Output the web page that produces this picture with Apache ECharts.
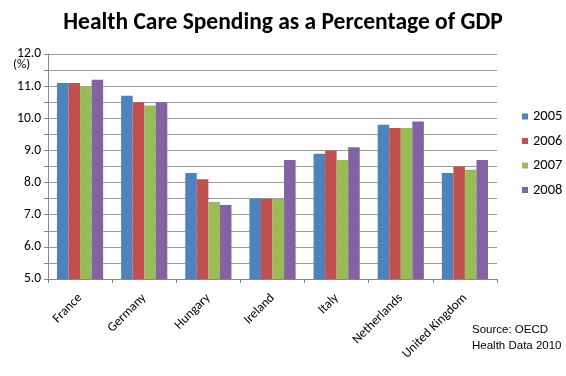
<!DOCTYPE html>
<html><head><meta charset="utf-8">
<script src="https://cdn.jsdelivr.net/npm/echarts@6/dist/echarts.min.js"></script>
<style>html,body{margin:0;padding:0;background:#fff}#c{width:566px;height:376px}</style>
</head><body><div id="c"></div>
<script>
const categories = ['France','Germany','Hungary','Ireland','Italy','Netherlands','United Kingdom'];
const years = ['2005','2006','2007','2008'];
const v2005 = [11.1, 10.7, 8.3, 7.5, 8.9, 9.8, 8.3];
const v2006 = [11.1, 10.5, 8.1, 7.5, 9.0, 9.7, 8.5];
const v2007 = [11.0, 10.4, 7.4, 7.5, 8.7, 9.7, 8.4];
const v2008 = [11.2, 10.5, 7.3, 8.7, 9.1, 9.9, 8.7];
const colors = ['#4F81BD','#C0504D','#9BBB59','#8064A2'];
const values = [v2005, v2006, v2007, v2008];

const chart = echarts.init(document.getElementById('c'), null, {renderer:'canvas'});
const font = 'Carlito, "Open Sans", "Liberation Sans", sans-serif';
chart.setOption({
  animation:false,
  title:{text:'Health Care Spending as a Percentage of GDP', left:'center', top:6,
    textStyle:{fontFamily:font, fontSize:23.5, fontWeight:'bold', color:'#000'}},
  grid:{left:48, right:69, top:54, bottom:97},
  legend:{orient:'vertical', left:517, top:104, itemWidth:6, itemHeight:6, itemGap:9.5,
    icon:'rect', textStyle:{fontFamily:font, fontSize:14.5, color:'#000'},
    data:years},
  xAxis:{type:'category', data:categories,
    axisLine:{lineStyle:{color:'#868686'}},
    axisTick:{show:true, length:4, lineStyle:{color:'#868686'}},
    axisLabel:{rotate:45, fontFamily:font, fontSize:13, color:'#000', margin:17}},
  yAxis:{type:'value', min:5, max:12, interval:0.5,
    axisLine:{show:true, lineStyle:{color:'#868686'}},
    axisTick:{show:true, length:4, lineStyle:{color:'#868686'}},
    splitLine:{lineStyle:{color:'#9a9a9a'}},
    axisLabel:{fontFamily:font, fontSize:13.5, color:'#000', margin:7,
      formatter:v => (Math.abs(v - Math.round(v))<1e-6) ? v.toFixed(1) : ''}},
  graphic:[
    {type:'text', left:13, top:58, style:{text:'(%)', fontFamily:font, fontSize:13, fill:'#000'}},
    {type:'text', left:472, top:322, style:{text:'Source: OECD\nHealth Data 2010', lineHeight:16, fontFamily:'"Liberation Sans", Arial, sans-serif', fontSize:11.5, fill:'#000'}}
  ],
  series: years.map((y,i)=>({name:y, type:'bar', data:values[i], barGap:'0%', barCategoryGap:'28%',
    itemStyle:{color:colors[i]}}))
});
</script></body></html>
